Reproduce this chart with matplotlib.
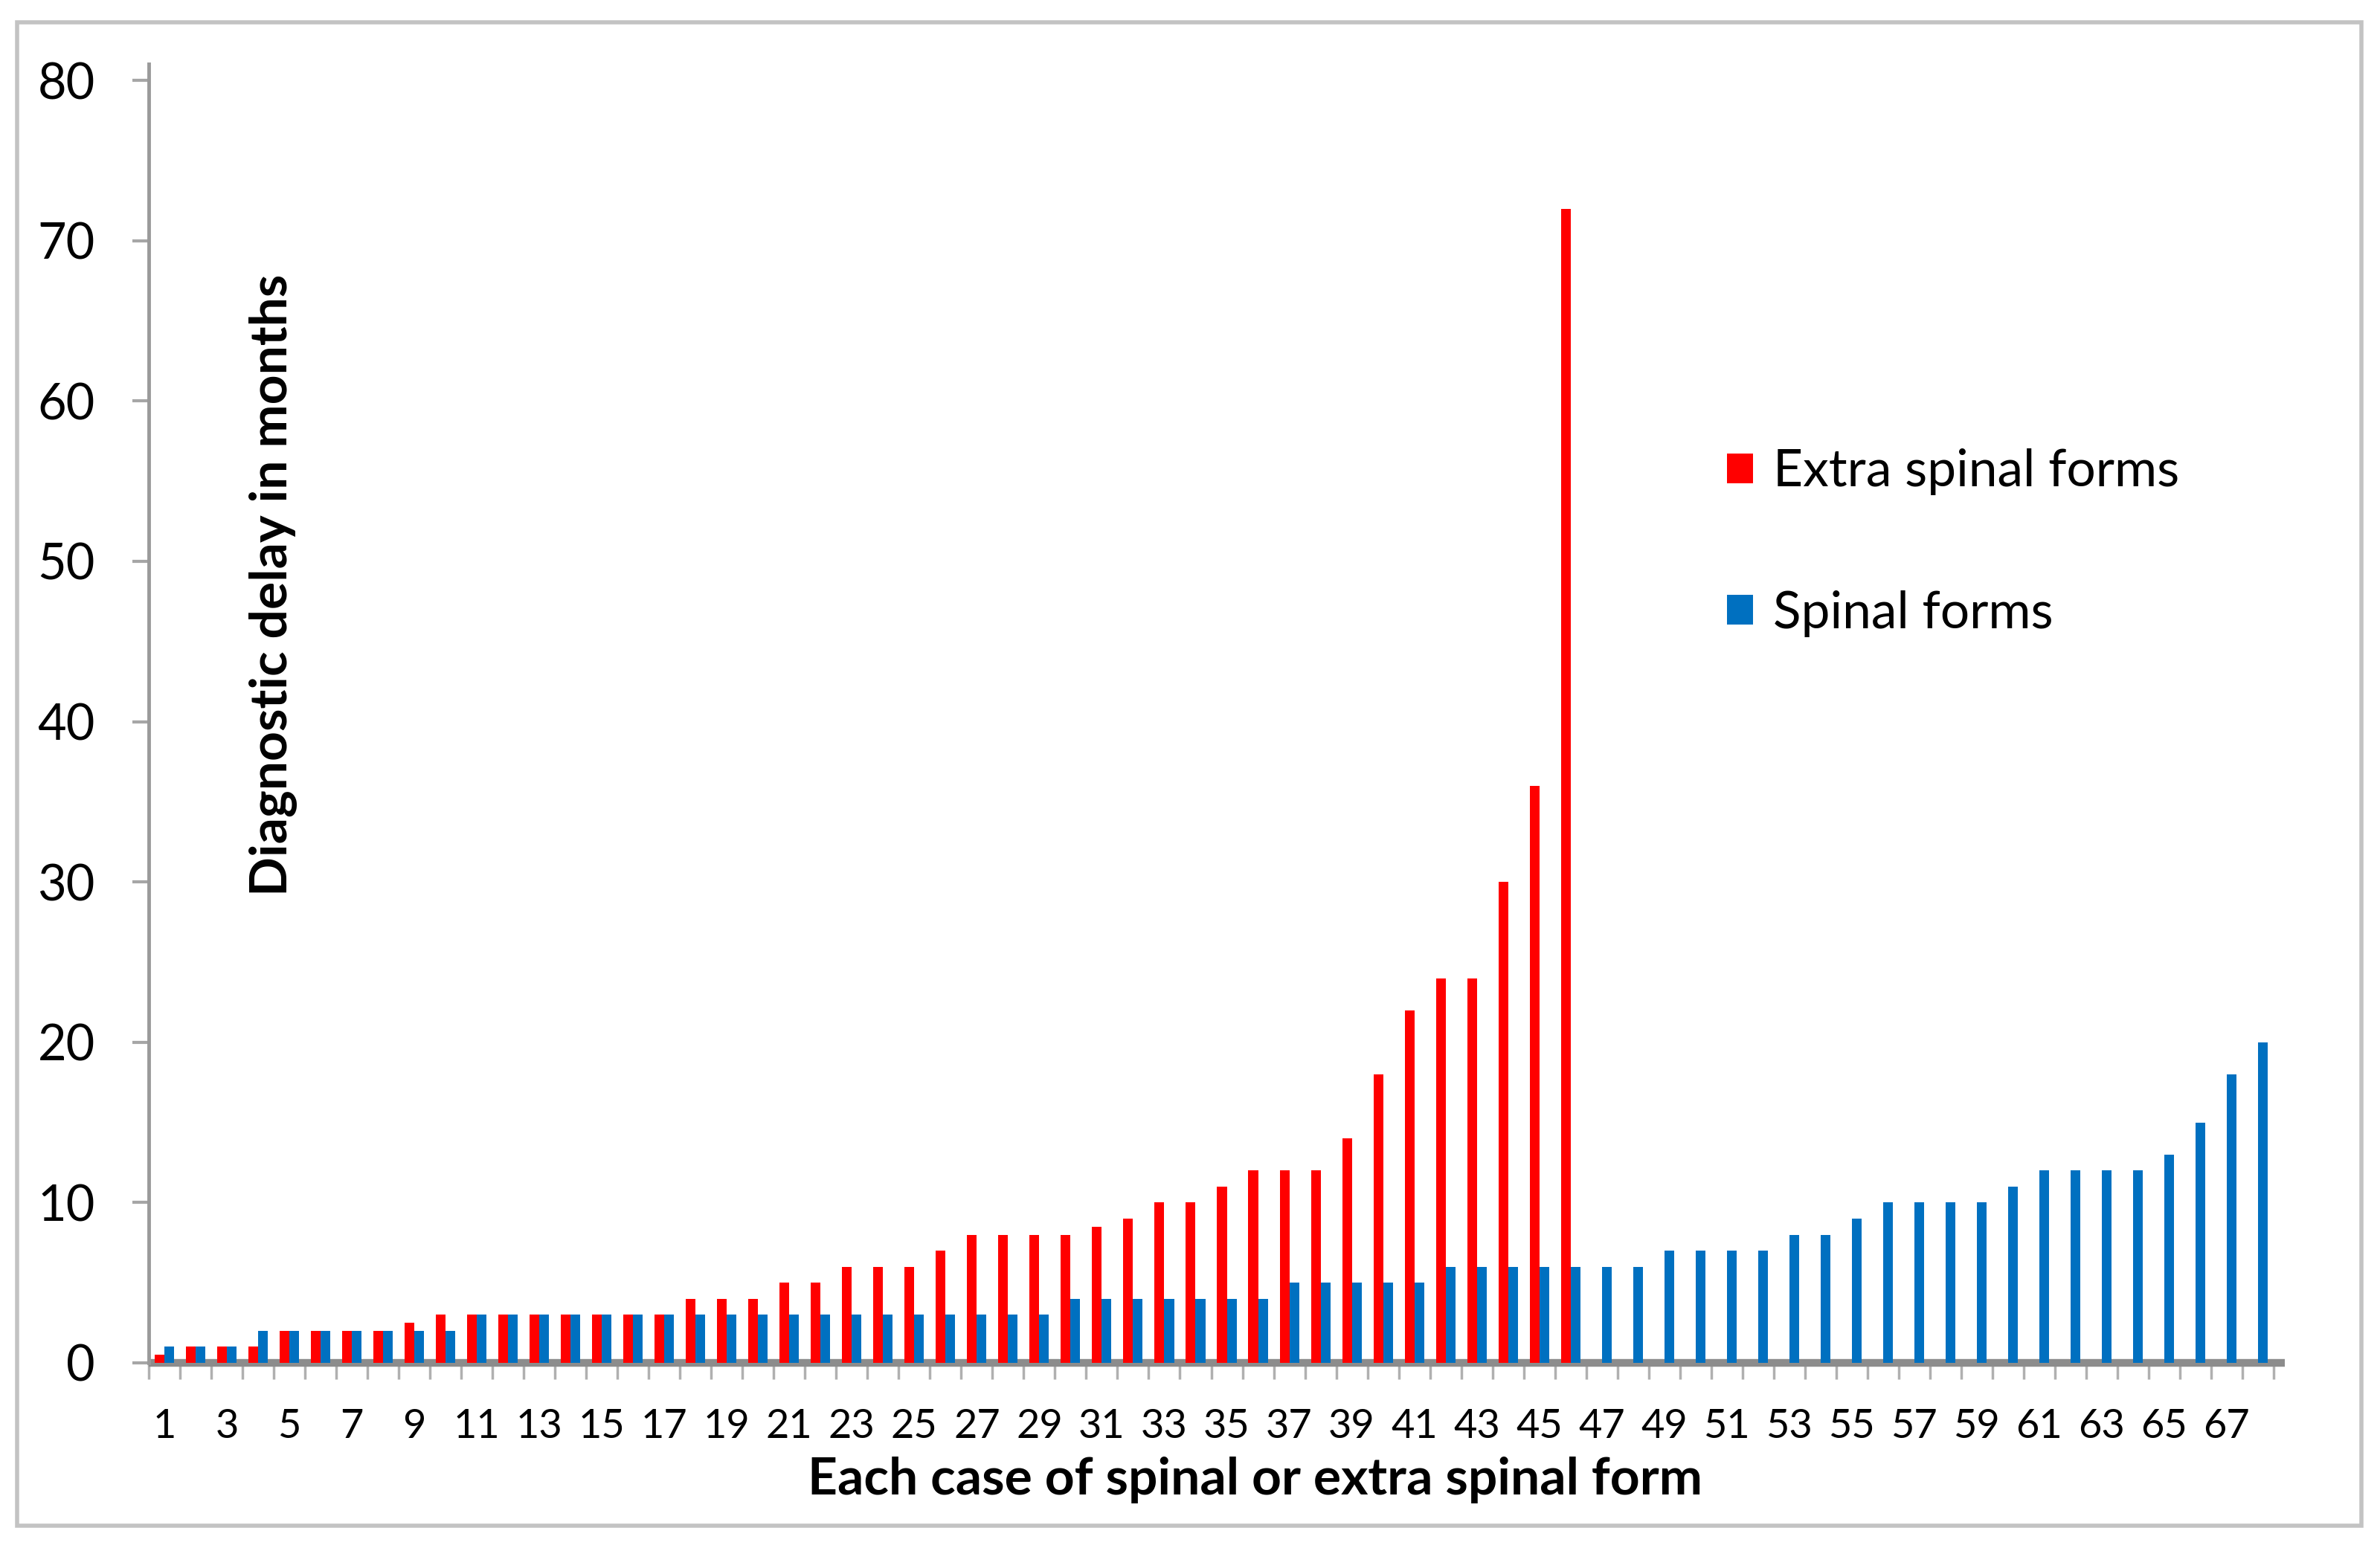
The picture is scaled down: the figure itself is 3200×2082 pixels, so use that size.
import numpy as np
import matplotlib.pyplot as plt
from matplotlib.patches import Rectangle

# diagnostic delay (months) for each case, sorted ascending
extra_spinal = [0.5, 1, 1, 1, 2, 2, 2, 2, 2.5, 3,
                3, 3, 3, 3, 3, 3, 3, 4, 4, 4,
                5, 5, 6, 6, 6, 7, 8, 8, 8, 8,
                8.5, 9, 10, 10, 11, 12, 12, 12, 14, 18,
                22, 24, 24, 30, 36, 72]
spinal = [1, 1, 1, 2, 2, 2, 2, 2, 2, 2,
          3, 3, 3, 3, 3, 3, 3, 3, 3, 3,
          3, 3, 3, 3, 3, 3, 3, 3, 3, 4,
          4, 4, 4, 4, 4, 4, 5, 5, 5, 5,
          5, 6, 6, 6, 6, 6, 6, 6, 7, 7,
          7, 7, 8, 8, 9, 10, 10, 10, 10, 11,
          12, 12, 12, 12, 13, 15, 18, 20]
series_names = ['Extra spinal forms', 'Spinal forms']
y_ticks = [0, 10, 20, 30, 40, 50, 60, 70, 80]

RED = '#FF0000'
BLUE = '#0070C0'
plt.rcParams['font.family'] = ['Lato', 'DejaVu Sans']

W, H = 3200, 2082
fig = plt.figure(figsize=(W / 100, H / 100), dpi=100)
ax = fig.add_axes([200 / W, 249 / H, (3057 - 200) / W, (1833 - 108) / H])

n_cases = len(spinal)
x_red = np.arange(1, len(extra_spinal) + 1)
x_blue = np.arange(1, n_cases + 1)
bw = 0.31
b1 = ax.bar(x_red - bw / 2, extra_spinal, width=bw, color=RED, zorder=3, label=series_names[0])
b2 = ax.bar(x_blue + bw / 2, spinal, width=bw, color=BLUE, zorder=3, label=series_names[1])

ax.set_xlim(0.5, n_cases + 0.5)
ax.set_ylim(0, 80)

# floor of the chart (thick grey band)
ax.plot([0.5, n_cases + 0.85], [0, 0], lw=7.5, color='#8c8c8c', solid_capstyle='butt',
        clip_on=False, zorder=2)

for s in ['top', 'right', 'bottom']:
    ax.spines[s].set_visible(False)
ax.spines['left'].set_color('#9a9a9a')
ax.spines['left'].set_linewidth(3.5)
ax.spines['left'].set_bounds(0, 81)

ax.set_yticks(y_ticks)
ax.tick_params(axis='y', direction='out', length=16, width=3, color='#a6a6a6',
               labelsize=48, pad=36)

# labels at odd cases, tick marks between cases
ax.set_xticks(x_blue[::2])
ax.set_xticklabels([str(v) for v in x_blue[::2]])
ax.set_xticks(np.arange(0.5, n_cases + 1, 1), minor=True)
ax.tick_params(axis='x', which='major', length=0, labelsize=39, pad=44)
ax.tick_params(axis='x', which='minor', direction='out', length=16, width=2.5, color='#b0b0b0')

fig.text(367 / W, 1 - 787 / H, 'Diagnostic delay in months', rotation=90,
         fontsize=50, fontweight='bold', ha='center', va='center')
fig.text(1688 / W, 1 - 1990 / H, 'Each case of spinal or extra spinal form',
         fontsize=50, fontweight='bold', ha='center', va='center')

ax.legend(handles=[b1, b2], loc='center left', bbox_to_anchor=(2322 / W, 1 - 730 / H),
          bbox_transform=fig.transFigure, frameon=False, fontsize=50,
          handlelength=0.5, handleheight=0.5, handletextpad=0.4,
          labelspacing=1.83, borderpad=0, borderaxespad=0)

# outer chart border
fig.patches.append(Rectangle((23 / W, 30 / H), (3175 - 23) / W, (2052 - 30) / H,
                             transform=fig.transFigure, fill=False,
                             edgecolor='#c3c3c3', linewidth=4))

fig.savefig('out.png', dpi=100, facecolor='white')
